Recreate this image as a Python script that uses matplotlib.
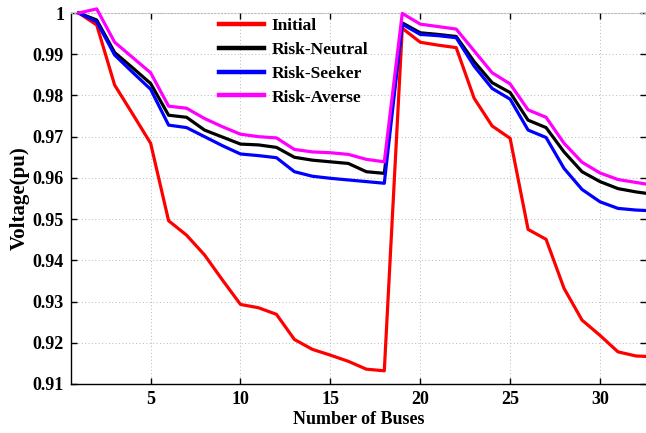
import matplotlib
matplotlib.use("Agg")
import matplotlib.pyplot as plt
import numpy as np

buses = list(range(1, 34))
initial = [1.0, 0.9971, 0.9825, 0.9755, 0.9684, 0.9496, 0.9461, 0.9413, 0.9352, 0.9293,
           0.9285, 0.9269, 0.9208, 0.9184, 0.9170, 0.9155, 0.9136, 0.9132, 0.9963, 0.9929,
           0.9922, 0.9916, 0.9793, 0.9726, 0.9696, 0.9475, 0.9451, 0.9332, 0.9255, 0.9218,
           0.9178, 0.9168, 0.9166]
risk_neutral = [1.0, 0.9983, 0.9904, 0.9867, 0.9829, 0.9752, 0.9747, 0.9716, 0.9699, 0.9682,
                0.9680, 0.9674, 0.9650, 0.9643, 0.9639, 0.9635, 0.9615, 0.9611, 0.9976, 0.9952,
                0.9948, 0.9943, 0.9882, 0.9831, 0.9807, 0.9740, 0.9722, 0.9663, 0.9615, 0.9591,
                0.9574, 0.9566, 0.9560]
risk_seeker = [1.0, 0.9979, 0.9898, 0.9856, 0.9815, 0.9728, 0.9722, 0.9700, 0.9678, 0.9658,
               0.9654, 0.9649, 0.9615, 0.9604, 0.9599, 0.9595, 0.9591, 0.9587, 0.9973, 0.9948,
               0.9945, 0.9940, 0.9871, 0.9817, 0.9791, 0.9716, 0.9698, 0.9623, 0.9572, 0.9542,
               0.9526, 0.9522, 0.9520]
risk_averse = [1.0, 1.0010, 0.9929, 0.9892, 0.9855, 0.9774, 0.9769, 0.9744, 0.9724, 0.9706,
               0.9700, 0.9697, 0.9669, 0.9663, 0.9661, 0.9657, 0.9645, 0.9639, 0.9999, 0.9973,
               0.9967, 0.9961, 0.9908, 0.9855, 0.9828, 0.9765, 0.9747, 0.9684, 0.9638, 0.9612,
               0.9596, 0.9589, 0.9582]

series_names = ["Initial", "Risk-Neutral", "Risk-Seeker", "Risk-Averse"]
series_colors = ["#ff0000", "#000000", "#0000ff", "#ff00ff"]
xticks = [5, 10, 15, 20, 25, 30]
yticks = [0.91, 0.92, 0.93, 0.94, 0.95, 0.96, 0.97, 0.98, 0.99, 1.0]
ytick_labels = ["0.91", "0.92", "0.93", "0.94", "0.95", "0.96", "0.97", "0.98", "0.99", "1"]

plt.rcParams['font.family'] = ['Liberation Serif', 'DejaVu Serif']
plt.rcParams['font.weight'] = 'bold'

fig = plt.figure(figsize=(6.46, 4.33), dpi=100)
ax = fig.add_axes([71/646, 49/433, 575/646, 371/433])

data = [initial, risk_neutral, risk_seeker, risk_averse]
for name, vals, col in zip(series_names, data, series_colors):
    ax.plot(buses, vals, color=col, lw=2.3, label=name, clip_on=False, zorder=3)

ax.set_xlim(0.57, 32.56)
ax.set_ylim(0.91, 1.0)
ax.set_xticks(xticks)
ax.set_yticks(yticks)
ax.set_yticklabels(ytick_labels)
ax.tick_params(direction='in', top=True, right=True, labelsize=13, length=4, width=1, pad=5)
for lab in ax.get_xticklabels() + ax.get_yticklabels():
    lab.set_fontweight('bold')
ax.grid(True, linestyle=(0, (1, 2.5)), color='#b8b8b8', lw=0.7)
for s in ['left', 'bottom']:
    ax.spines[s].set_linewidth(1.0)
for s in ['top', 'right']:
    ax.spines[s].set_color('#bbbbbb')
    ax.spines[s].set_linestyle((0, (1, 2)))

ax.set_xlabel("Number of Buses", fontsize=13, fontweight='bold', labelpad=2)
ax.set_ylabel("Voltage(pu)", fontsize=15, fontweight='bold', labelpad=2)

leg = ax.legend(loc='upper left', bbox_to_anchor=(0.23, 1.03), frameon=False,
                handlelength=2.6, handletextpad=0.45, labelspacing=0.45,
                prop={'weight': 'bold', 'size': 12.5})
for h in leg.get_lines():
    h.set_linewidth(3.2)

fig.savefig("out.png", dpi=100)
